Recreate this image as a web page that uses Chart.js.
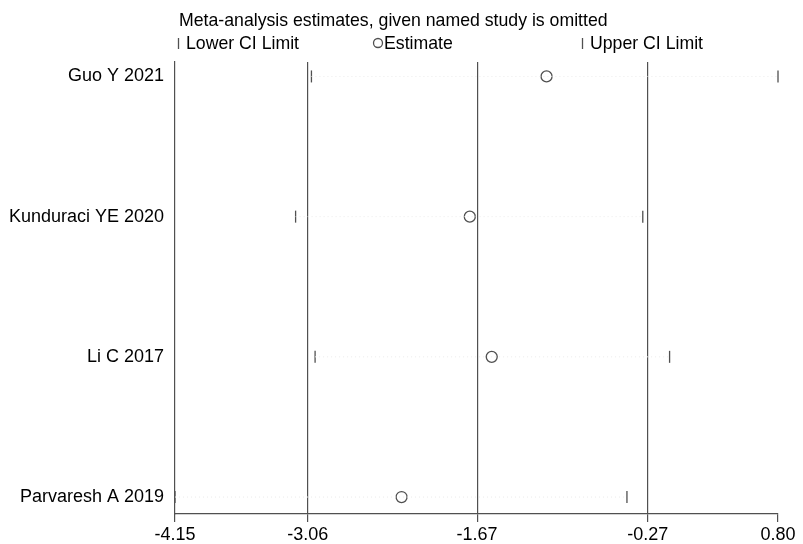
<!DOCTYPE html>
<html>
<head>
<meta charset="utf-8">
<script src="https://cdn.jsdelivr.net/npm/chart.js@4"></script>
<style>
  html, body { margin: 0; padding: 0; background: #ffffff; }
  #c { display: block; }
</style>
</head>
<body>
<canvas id="c" width="803" height="544"></canvas>
<script>
// Leave-one-out sensitivity analysis: pooled estimate and CI with each study removed
const studies  = ['Guo Y 2021', 'Kunduraci YE 2020', 'Li C 2017', 'Parvaresh A 2019'];
const lowerCI  = [-3.03, -3.16, -3.00, -4.15];
const estimate = [-1.10, -1.73, -1.55, -2.29];
const upperCI  = [0.80, -0.31, -0.09, -0.44];
const xTicks   = [-4.15, -3.06, -1.67, -0.27, 0.80];
const titleText = 'Meta-analysis estimates, given named study is omitted';
const legendLabels = ['Lower CI Limit', 'Estimate', 'Upper CI Limit'];

const FONT = '"Liberation Sans", Arial, sans-serif';
const INK = '#505050';

const pts = arr => arr.map((v, i) => ({ x: v, y: i }));

// faint dotted guide between the two limits of each row
const rangeSets = studies.map((s, i) => ({
  type: 'line',
  data: [{ x: lowerCI[i], y: i }, { x: upperCI[i], y: i }],
  borderColor: '#ebebeb',
  borderWidth: 1,
  borderDash: [1, 3],
  pointRadius: 0,
  clip: false
}));

const limitMarker = {
  type: 'scatter',
  pointStyle: 'line',
  rotation: 90,
  radius: 6,
  borderColor: INK,
  borderWidth: 1.3,
  clip: false
};

// title and legend row above the plot
const headerPlugin = {
  id: 'header',
  afterDraw(chart) {
    const ctx = chart.ctx;
    ctx.save();
    ctx.fillStyle = '#000';
    ctx.strokeStyle = INK;
    ctx.lineWidth = 1.3;
    ctx.font = '17.7px ' + FONT;
    ctx.textBaseline = 'alphabetic';
    ctx.textAlign = 'left';
    ctx.fillText(titleText, 179, 26);

    const by = 49;
    // lower limit key
    ctx.beginPath(); ctx.moveTo(178.5, by - 11); ctx.lineTo(178.5, by); ctx.stroke();
    ctx.fillText(legendLabels[0], 186, by);
    // estimate key
    ctx.beginPath(); ctx.arc(378, by - 6, 4.5, 0, Math.PI * 2); ctx.stroke();
    ctx.fillText(legendLabels[1], 384, by);
    // upper limit key
    ctx.beginPath(); ctx.moveTo(582.5, by - 11); ctx.lineTo(582.5, by); ctx.stroke();
    ctx.fillText(legendLabels[2], 590, by);
    ctx.restore();
  }
};

new Chart(document.getElementById('c'), {
  data: {
    datasets: [
      ...rangeSets,
      Object.assign({ label: legendLabels[0], data: pts(lowerCI) }, limitMarker),
      {
        type: 'scatter',
        label: legendLabels[1],
        data: pts(estimate),
        pointStyle: 'circle',
        radius: 5.5,
        backgroundColor: 'rgba(0,0,0,0)',
        borderColor: INK,
        borderWidth: 1.3,
        clip: false
      },
      Object.assign({ label: legendLabels[2], data: pts(upperCI) }, limitMarker)
    ]
  },
  options: {
    responsive: false,
    devicePixelRatio: 1,
    animation: false,
    layout: { padding: { top: 62, right: 25, left: 0, bottom: 0 } },
    plugins: {
      legend: { display: false },
      tooltip: { enabled: false },
      title: { display: false }
    },
    scales: {
      x: {
        type: 'linear',
        min: -4.15,
        max: 0.80,
        afterBuildTicks: s => { s.ticks = xTicks.map(v => ({ value: v })); },
        afterFit: s => { s.height = 30; },
        ticks: {
          callback: v => Number(v).toFixed(2),
          font: { family: FONT, size: 18 },
          color: '#000',
          padding: 2,
          maxRotation: 0,
          autoSkip: false
        },
        grid: {
          color: c => (c.tick && (c.tick.value === xTicks[0] || c.tick.value === xTicks[xTicks.length - 1])) ? 'rgba(0,0,0,0)' : INK,
          tickColor: INK,
          tickLength: 8,
          lineWidth: 1.2
        },
        border: { color: INK, width: 1.2 }
      },
      y: {
        type: 'linear',
        reverse: true,
        min: -0.103,
        max: 3.121,
        afterBuildTicks: s => { s.ticks = studies.map((_, i) => ({ value: i })); },
        afterFit: s => { s.width = 175; },
        ticks: {
          callback: v => studies[v],
          font: { family: FONT, size: 18 },
          color: '#000',
          padding: 11,
          autoSkip: false
        },
        grid: { display: true, drawOnChartArea: false, drawTicks: false, color: 'rgba(0,0,0,0)' },
        border: { color: INK, width: 1.2 }
      }
    }
  },
  plugins: [headerPlugin]
});
</script>
</body>
</html>
